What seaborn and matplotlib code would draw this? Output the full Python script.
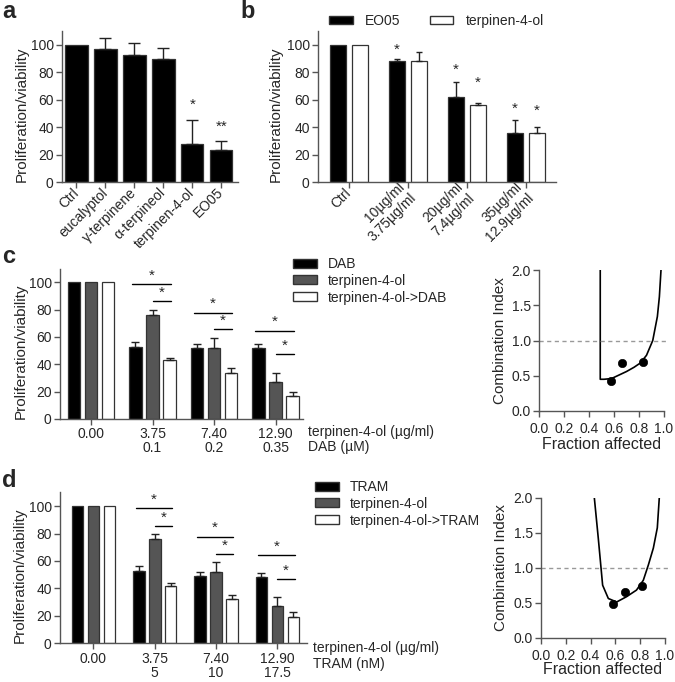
import numpy as np
import pandas as pd
import seaborn as sns
import matplotlib.pyplot as plt
from matplotlib.patches import Patch

# ---- panel a ----
a_labels = ['Ctrl', 'eucalyptol', 'γ-terpinene', 'α-terpineol', 'terpinen-4-ol', 'EO05']
a_mean = [100, 97, 93, 90, 28, 23.5]
a_err = [0, 8, 8.5, 7.5, 17, 6.5]
a_stars = ['', '', '', '', '*', '**']
a_star_y = [0, 0, 0, 0, 56, 40]

# ---- panel b ----
b_groups = ['Ctrl', '10µg/ml\n3.75µg/ml', '20µg/ml\n7.4µg/ml', '35µg/ml\n12.9µg/ml']
b_series = ['EO05', 'terpinen-4-ol']
b_eo05 = [100, 88, 62, 35.5]
b_eo05_err = [0, 2, 11, 9.5]
b_terp = [100, 88, 56, 36]
b_terp_err = [0, 7, 2, 4]
b_eo05_star_y = [0, 96.8, 81.8, 53.8]
b_terp_star_y = [0, 0, 72.5, 51.8]

# ---- panel c ----
c_groups = ['0.00', '3.75\n0.1', '7.40\n0.2', '12.90\n0.35']
c_series = ['DAB', 'terpinen-4-ol', 'terpinen-4-ol->DAB']
c_dab = [100, 53, 52, 52]
c_dab_err = [0, 3.5, 3, 2.5]
c_terp = [100, 76, 52, 27]
c_terp_err = [0, 4, 7, 7]
c_combo = [100, 43, 34, 17]
c_combo_err = [0, 1.5, 3, 3]
c_sig_long = [98.8, 77.8, 64.6]
c_sig_short = [86, 65.6, 47.5]

# ---- panel d ----
d_groups = ['0.00', '3.75\n5', '7.40\n10', '12.90\n17.5']
d_series = ['TRAM', 'terpinen-4-ol', 'terpinen-4-ol->TRAM']
d_tram = [100, 53, 49, 48]
d_tram_err = [0, 3, 3, 3]
d_terp = [100, 76, 52, 27]
d_terp_err = [0, 4, 7, 7]
d_combo = [100, 42, 32, 19]
d_combo_err = [0, 2, 3.5, 3.5]
d_sig_long = [98.3, 77.7, 64.3]
d_sig_short = [85.4, 64.8, 46.8]

# ---- combination index curves ----
ci_c_fa = [0.49, 0.49, 0.52, 0.58, 0.64, 0.70, 0.76, 0.81, 0.86, 0.91, 0.947, 0.963, 0.976]
ci_c_ci = [2.0, 0.45, 0.45, 0.46, 0.51, 0.56, 0.62, 0.68, 0.79, 1.0, 1.34, 1.62, 2.0]
ci_c_pts_fa = [0.575, 0.66, 0.834]
ci_c_pts_ci = [0.43, 0.686, 0.695]
ci_d_fa = [0.43, 0.462, 0.497, 0.543, 0.61, 0.69, 0.77, 0.825, 0.866, 0.906, 0.938, 0.954]
ci_d_ci = [2.0, 1.42, 0.75, 0.56, 0.51, 0.586, 0.68, 0.82, 1.04, 1.28, 1.57, 2.0]
ci_d_pts_fa = [0.578, 0.677, 0.812]
ci_d_pts_ci = [0.48, 0.655, 0.74]

sns.set_style('ticks')
plt.rcParams['font.family'] = ['Liberation Sans', 'DejaVu Sans']

W, H = 675, 682
fig = plt.figure(figsize=(W / 100, H / 100), dpi=100)


def px_axes(left, top, right, bottom):
    return fig.add_axes([left / W, 1 - bottom / H, (right - left) / W, (bottom - top) / H])


EDGE = '#333333'
SPINE = '#555555'


def style(ax, labelsize, pad=2):
    sns.despine(ax=ax)
    for s in ['left', 'bottom']:
        ax.spines[s].set_color(SPINE)
        ax.spines[s].set_linewidth(1)
    ax.tick_params(direction='out', length=4, width=1, color=SPINE, labelsize=labelsize, pad=pad)


def add_errors(ax, errs, capsize):
    for cont, err in zip(ax.containers, errs):
        for p, e in zip(cont, err):
            if e > 0:
                ax.errorbar(p.get_x() + p.get_width() / 2, p.get_height(), yerr=[[0], [e]],
                            fmt='none', ecolor='#222222', elinewidth=1, capsize=capsize, capthick=1)


def grouped_bars(ax, groups, series, values, errs, palette, width, gap, capsize):
    df = pd.DataFrame({
        'group': np.tile(groups, len(series)),
        'series': np.repeat(series, len(groups)),
        'value': np.concatenate(values),
    })
    sns.barplot(data=df, x='group', y='value', hue='series', hue_order=series, order=groups,
                palette=palette, width=width, gap=gap, saturation=1, edgecolor=EDGE,
                linewidth=0.9, errorbar=None, legend=False, ax=ax)
    add_errors(ax, errs, capsize)


# ---------- a ----------
ax_a = px_axes(62, 31.3, 238, 182)
sns.barplot(x=a_labels, y=a_mean, color='black', width=0.76, saturation=1, edgecolor=EDGE,
            linewidth=0.9, errorbar=None, ax=ax_a)
add_errors(ax_a, [a_err], 4)
for i, (s, y) in enumerate(zip(a_stars, a_star_y)):
    if s:
        ax_a.text(i, y, s, ha='center', va='center', fontsize=11)
ax_a.set_xlim(-0.5, 5.57)
ax_a.set_ylim(0, 110)
ax_a.set_yticks(range(0, 101, 20))
style(ax_a, 10)
ax_a.set_xticks(range(len(a_labels)))
ax_a.set_xticklabels(a_labels, rotation=45, ha='right', va='center', rotation_mode='anchor')
ax_a.set_xlabel('')
ax_a.set_ylabel('Proliferation/viability', fontsize=11)
ax_a.yaxis.set_label_coords(-0.19, 0.45)

# ---------- b ----------
ax_b = px_axes(318, 31.3, 556, 182)
grouped_bars(ax_b, b_groups, b_series, [b_eo05, b_terp], [b_eo05_err, b_terp_err],
             {'EO05': 'black', 'terpinen-4-ol': 'white'}, 0.746, 0.25, 2.5)
for cont, ys in zip(ax_b.containers, [b_eo05_star_y, b_terp_star_y]):
    for p, y in zip(cont, ys):
        if y > 0:
            ax_b.text(p.get_x() + p.get_width() / 2, y, '*', ha='center', va='center', fontsize=11)
ax_b.set_xlim(-0.525, 3.51)
ax_b.set_ylim(0, 110)
ax_b.set_yticks(range(0, 101, 20))
style(ax_b, 10)
ax_b.set_xticks(range(len(b_groups)))
ax_b.set_xticklabels(b_groups, rotation=45, ha='right', va='center', rotation_mode='anchor', ma='right')
ax_b.set_xlabel('')
ax_b.set_ylabel('Proliferation/viability', fontsize=11)
ax_b.yaxis.set_label_coords(-0.147, 0.45)
ax_b.legend(handles=[Patch(facecolor='black', edgecolor=EDGE, label='EO05'),
                     Patch(facecolor='white', edgecolor=EDGE, label='terpinen-4-ol')],
            ncol=2, frameon=False, fontsize=10, handlelength=1.7, handleheight=0.55,
            handletextpad=0.9, columnspacing=2.1, borderpad=0, borderaxespad=0,
            loc='upper left', bbox_to_anchor=(329 / W, 1 - 14 / H), bbox_transform=fig.transFigure)


def combo_panel(ax, groups, series, values, errs, sig_long, sig_short, width, gap, xlim):
    grouped_bars(ax, groups, series, values, errs,
                 {series[0]: 'black', series[1]: '#555555', series[2]: 'white'}, width, gap, 2.8)
    slot = width / 3
    for i in range(1, len(groups)):
        for x0, y in [(i - slot - 0.05, sig_long[i - 1]), (i, sig_short[i - 1])]:
            x1 = i + slot + 0.02
            ax.plot([x0, x1], [y, y], color='black', lw=1)
            ax.text((x0 + x1) / 2, y + 6.3, '*', ha='center', va='center', fontsize=11)
    ax.set_xlim(*xlim)
    ax.set_ylim(0, 110)
    ax.set_yticks(range(0, 101, 20))
    style(ax, 10)
    ax.set_xticks(range(len(groups)))
    ax.set_xticklabels(groups, va='top', ha='center', linespacing=1.0)
    ax.set_xlabel('')
    ax.set_ylabel('Proliferation/viability', fontsize=11)
    ax.legend(handles=[Patch(facecolor=c, edgecolor=EDGE, label=s)
                       for c, s in zip(['black', '#555555', 'white'], series)],
              frameon=False, fontsize=10, handlelength=1.7, handleheight=0.6,
              labelspacing=0.2, borderpad=0, borderaxespad=0, loc='upper left')


def ci_panel(ax, fa, ci, pfa, pci):
    sns.lineplot(x=fa, y=ci, sort=False, estimator=None, color='black', lw=1.2, ax=ax)
    sns.scatterplot(x=pfa, y=pci, color='black', s=36, edgecolor='black', zorder=3, ax=ax)
    ax.axhline(1.0, xmin=0, xmax=1.03, ls=(0, (3, 2.5)), color='#999999', lw=1, clip_on=False)
    ax.set_xlim(0, 1)
    ax.set_ylim(0, 2)
    ax.set_xticks(np.arange(0, 1.01, 0.2))
    ax.set_yticks(np.arange(0, 2.01, 0.5))
    ax.set_xticklabels(['%.1f' % v for v in np.arange(0, 1.01, 0.2)])
    ax.set_yticklabels(['%.1f' % v for v in np.arange(0, 2.01, 0.5)])
    style(ax, 10)
    ax.tick_params(axis='x', pad=4)
    ax.set_xlabel('Fraction affected', fontsize=11.5)
    ax.set_ylabel('Combination Index', fontsize=11)


# ---------- c ----------
ax_c = px_axes(60, 268.6, 303, 419)
combo_panel(ax_c, c_groups, c_series, [c_dab, c_terp, c_combo],
            [c_dab_err, c_terp_err, c_combo_err], c_sig_long, c_sig_short, 0.83, 0.29, (-0.504, 3.447))
ax_c.yaxis.set_label_coords(-0.132, 0.45)
ax_c.legend_.set_bbox_to_anchor((293 / W, 1 - 257 / H), transform=fig.transFigure)
fig.text(308 / W, 1 - 432 / H, 'terpinen-4-ol (µg/ml)', fontsize=10, va='center')
fig.text(308 / W, 1 - 447 / H, 'DAB (µM)', fontsize=10, va='center')

ax_ci_c = px_axes(539, 270, 664, 411)
ci_panel(ax_ci_c, ci_c_fa, ci_c_ci, ci_c_pts_fa, ci_c_pts_ci)
ax_ci_c.yaxis.set_label_coords(-0.256, 0.5)
ax_ci_c.xaxis.set_label_coords(0.5, -0.184)

# ---------- d ----------
ax_d = px_axes(60, 492.4, 307, 643.3)
combo_panel(ax_d, d_groups, d_series, [d_tram, d_terp, d_combo],
            [d_tram_err, d_terp_err, d_combo_err], d_sig_long, d_sig_short, 0.78, 0.28, (-0.546, 3.483))
ax_d.yaxis.set_label_coords(-0.134, 0.45)
ax_d.legend_.set_bbox_to_anchor((315 / W, 1 - 480 / H), transform=fig.transFigure)
fig.text(313 / W, 1 - 648 / H, 'terpinen-4-ol (µg/ml)', fontsize=10, va='center')
fig.text(313 / W, 1 - 664 / H, 'TRAM (nM)', fontsize=10, va='center')

ax_ci_d = px_axes(541, 497.7, 665, 637.7)
ci_panel(ax_ci_d, ci_d_fa, ci_d_ci, ci_d_pts_fa, ci_d_pts_ci)
ax_ci_d.yaxis.set_label_coords(-0.266, 0.5)
ax_ci_d.xaxis.set_label_coords(0.5, -0.176)

# panel letters
for letter, x, y in [('a', 2, 18), ('b', 240, 18), ('c', 2, 263), ('d', 2, 487)]:
    fig.text(x / W, 1 - y / H, letter, fontsize=17, weight='bold', va='baseline')

fig.savefig('out.png', dpi=100)
